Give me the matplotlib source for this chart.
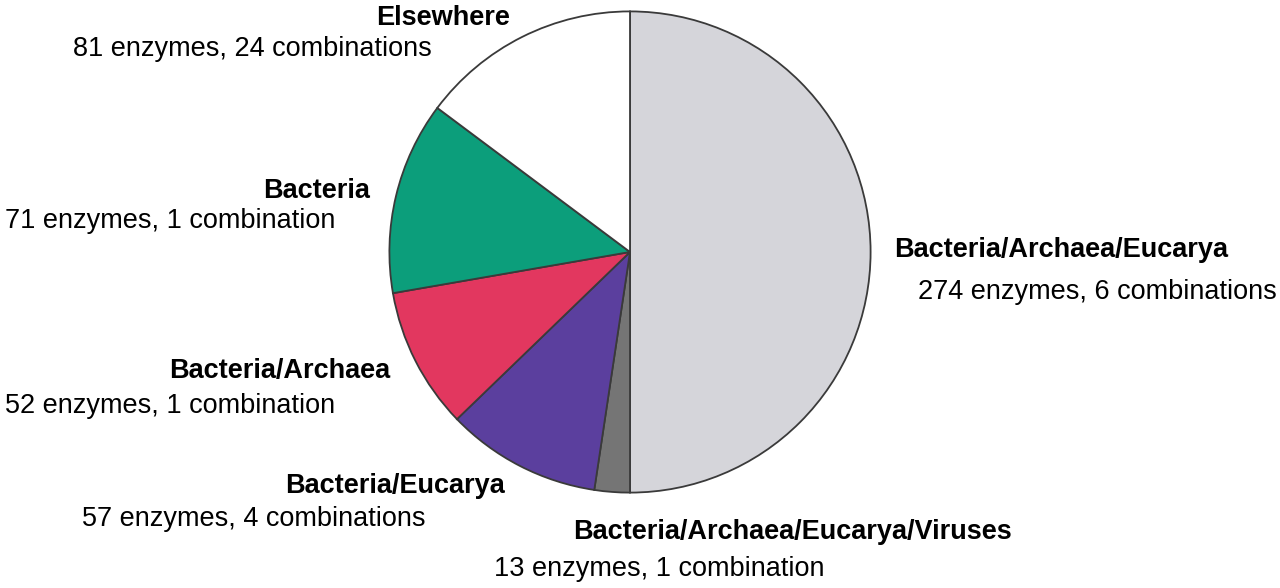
import matplotlib
matplotlib.use("Agg")
import matplotlib.pyplot as plt

# slices, clockwise from 12 o'clock
groups = ["Bacteria/Archaea/Eucarya", "Bacteria/Archaea/Eucarya/Viruses",
          "Bacteria/Eucarya", "Bacteria/Archaea", "Bacteria", "Elsewhere"]
enzymes = [274, 13, 57, 52, 71, 81]
combinations = [6, 1, 4, 1, 1, 24]
colors = ["#d5d5da", "#757575", "#5b3f9e", "#e2375f", "#0c9e7b", "#ffffff"]

W, H = 1280, 588
fig = plt.figure(figsize=(W / 100, H / 100), dpi=100)
fig.patch.set_facecolor("white")

cx, cy, r = 630, 252, 243
ax = fig.add_axes([(cx - r) / W, (H - cy - r) / H, 2 * r / W, 2 * r / H])
ax.pie(enzymes, colors=colors, startangle=90, counterclock=False,
       wedgeprops=dict(edgecolor="#3a3a3a", linewidth=1.3))
ax.set_xlim(-1.01, 1.01)
ax.set_ylim(-1.01, 1.01)
ax.set_aspect("equal")
ax.axis("off")

# label placement in pixels (baselines): (bold x, bold y, bold ha, detail x, detail y, detail ha)
places = [
    (894, 257, "left", 1277, 299, "right"),
    (573, 539, "left", 494, 576, "left"),
    (505, 493, "right", 425, 526, "right"),
    (390, 378, "right", 5, 413, "left"),
    (370, 198, "right", 5, 228, "left"),
    (376, 25, "left", 432, 56, "right"),
]

fam = ["Liberation Sans", "DejaVu Sans"]
fs = 19.5
for g, n, c, p in zip(groups, enzymes, combinations, places):
    bx, by, bha, dx, dy, dha = p
    word = "combination" if c == 1 else "combinations"
    fig.text(bx / W, 1 - by / H, g, ha=bha, va="baseline", fontsize=fs,
             fontweight="bold", family=fam)
    fig.text(dx / W, 1 - dy / H, "%d enzymes, %d %s" % (n, c, word), ha=dha,
             va="baseline", fontsize=fs, family=fam)

fig.savefig("out.png", dpi=100)
